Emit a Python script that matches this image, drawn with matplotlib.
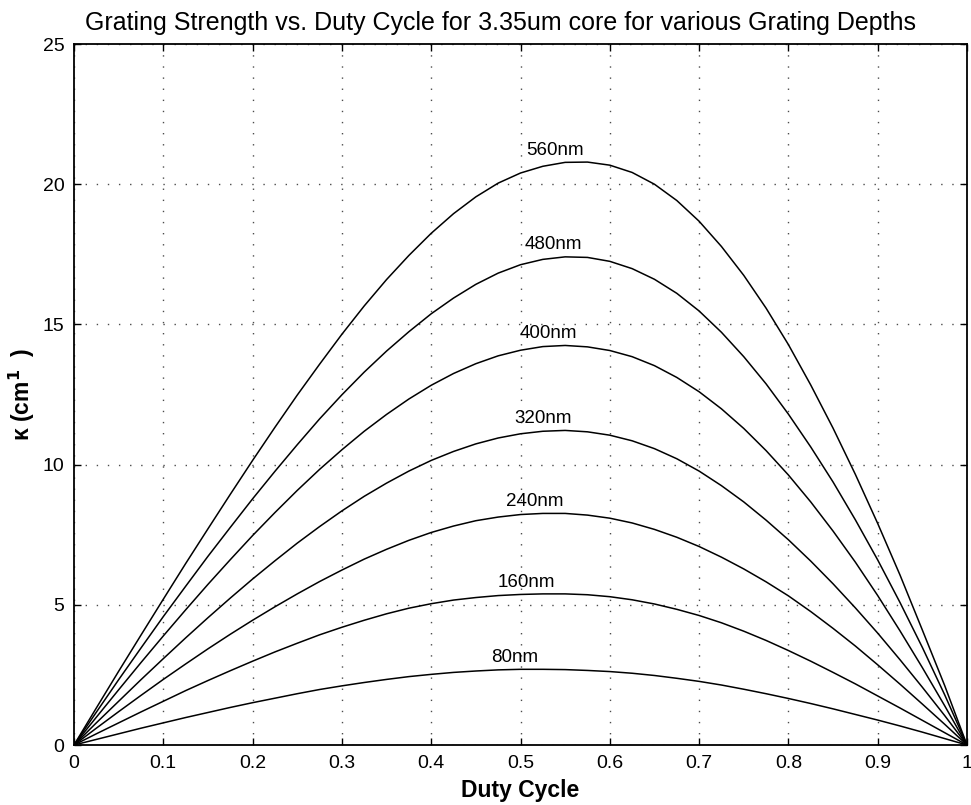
import matplotlib
matplotlib.use('Agg')
import matplotlib.pyplot as plt

plt.rcParams['font.family'] = ['Liberation Sans', 'DejaVu Sans']

# duty cycle sampled every 0.025
duty = [i / 40 for i in range(41)]

k_80 = [0, 0.20, 0.40, 0.60, 0.79, 0.98, 1.16, 1.34, 1.51, 1.67, 1.83,
        1.98, 2.11, 2.23, 2.34, 2.44, 2.52, 2.59, 2.64, 2.68, 2.70,
        2.70, 2.69, 2.66, 2.62, 2.56, 2.48, 2.38, 2.27, 2.14, 1.99,
        1.83, 1.66, 1.48, 1.29, 1.09, 0.89, 0.68, 0.46, 0.23, 0]
k_160 = [0, 0.40, 0.79, 1.18, 1.56, 1.94, 2.30, 2.65, 2.99, 3.32, 3.63,
         3.93, 4.20, 4.45, 4.68, 4.88, 5.04, 5.17, 5.26, 5.33, 5.37,
         5.39, 5.39, 5.36, 5.29, 5.18, 5.03, 4.84, 4.62, 4.36, 4.06,
         3.73, 3.37, 2.99, 2.59, 2.18, 1.75, 1.32, 0.88, 0.44, 0]
k_240 = [0, 0.60, 1.19, 1.77, 2.34, 2.89, 3.43, 3.95, 4.45, 4.93, 5.39,
         5.83, 6.24, 6.63, 6.98, 7.30, 7.58, 7.81, 8.00, 8.13, 8.22,
         8.26, 8.26, 8.20, 8.09, 7.92, 7.69, 7.41, 7.08, 6.70, 6.28,
         5.82, 5.32, 4.76, 4.16, 3.53, 2.86, 2.17, 1.46, 0.74, 0]
k_320 = [0, 0.79, 1.56, 2.33, 3.08, 3.82, 4.54, 5.24, 5.92, 6.57, 7.20,
         7.79, 8.35, 8.87, 9.34, 9.77, 10.15, 10.47, 10.74, 10.95, 11.10,
         11.19, 11.22, 11.17, 11.05, 10.85, 10.57, 10.21, 9.77, 9.25, 8.67,
         8.02, 7.32, 6.56, 5.75, 4.89, 3.99, 3.04, 2.06, 1.05, 0]
k_400 = [0, 0.99, 1.97, 2.94, 3.89, 4.82, 5.73, 6.61, 7.47, 8.29, 9.08,
         9.83, 10.53, 11.19, 11.79, 12.34, 12.83, 13.25, 13.60, 13.88, 14.08,
         14.21, 14.25, 14.20, 14.07, 13.85, 13.53, 13.11, 12.60, 11.99, 11.29,
         10.50, 9.63, 8.67, 7.63, 6.52, 5.33, 4.07, 2.76, 1.40, 0]
k_480 = [0, 1.17, 2.33, 3.46, 4.58, 5.66, 6.73, 7.76, 8.78, 9.76, 10.71,
         11.63, 12.49, 13.30, 14.05, 14.74, 15.38, 15.94, 16.43, 16.83, 17.13,
         17.32, 17.41, 17.39, 17.25, 16.99, 16.61, 16.11, 15.48, 14.72, 13.85,
         12.88, 11.80, 10.63, 9.38, 8.03, 6.60, 5.08, 3.48, 1.79, 0]
k_560 = [0, 1.32, 2.63, 3.92, 5.20, 6.47, 7.71, 8.94, 10.15, 11.33, 12.48,
         13.58, 14.65, 15.66, 16.60, 17.46, 18.25, 18.95, 19.55, 20.04, 20.40,
         20.64, 20.78, 20.79, 20.68, 20.42, 20.00, 19.42, 18.68, 17.78, 16.75,
         15.58, 14.28, 12.84, 11.30, 9.65, 7.90, 6.06, 4.10, 2.12, 0]

depths = ['80nm', '160nm', '240nm', '320nm', '400nm', '480nm', '560nm']
curves = [k_80, k_160, k_240, k_320, k_400, k_480, k_560]
label_x = [0.494, 0.507, 0.516, 0.525, 0.531, 0.537, 0.539]

x_ticks = [0, 0.1, 0.2, 0.3, 0.4, 0.5, 0.6, 0.7, 0.8, 0.9, 1]
x_ticklabels = ['0', '0.1', '0.2', '0.3', '0.4', '0.5', '0.6', '0.7', '0.8', '0.9', '1']
y_ticks = [0, 5, 10, 15, 20, 25]

fig = plt.figure(figsize=(9.71, 8.05), dpi=100)
ax = fig.add_axes([0.0762, 0.0745, 0.9197, 0.8708])

for name, k, lx in zip(depths, curves, label_x):
    ax.plot(duty, k, color='black', linewidth=1.1)
    ax.text(lx, max(k) + 0.12, name, ha='center', va='bottom', fontsize=13.5)

ax.set_xlim(0, 1)
ax.set_ylim(0, 25)
ax.set_xticks(x_ticks)
ax.set_xticklabels(x_ticklabels)
ax.set_yticks(y_ticks)
ax.tick_params(direction='in', length=5, width=1, labelsize=14, pad=7,
               top=True, right=True)
ax.grid(True, linestyle=(0, (1, 7)), color='black', linewidth=1.0, alpha=0.7)
for s in ax.spines.values():
    s.set_linewidth(1.3)

ax.set_xlabel('Duty Cycle', fontsize=16.5, fontweight='bold', labelpad=5)
ax.set_ylabel('κ (cm$^{\\mathbf{1}}$  )', fontsize=16.5, fontweight='bold', labelpad=4)
ax.set_title('Grating Strength vs. Duty Cycle for 3.35um core for various Grating Depths',
             fontsize=18, pad=10, x=0.478)

fig.savefig('out.png', dpi=100)
